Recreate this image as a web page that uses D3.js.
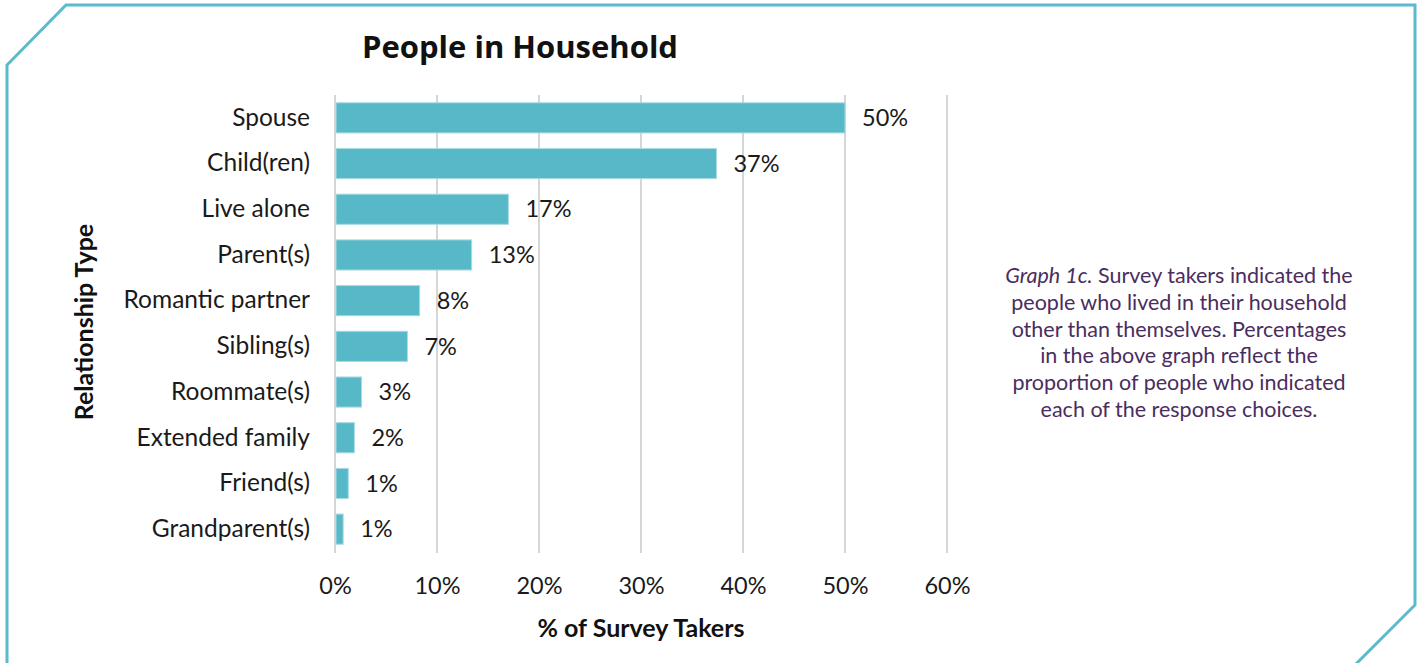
<!DOCTYPE html>
<html>
<head>
<meta charset="utf-8">
<script src="https://cdn.jsdelivr.net/npm/d3@7"></script>
<style>
  html, body { margin: 0; padding: 0; background: #fff; }
  svg { display: block; }
</style>
</head>
<body>
<svg id="chart" width="1421" height="663"></svg>
<script>
// Household relationship categories, top to bottom
const categories = ["Spouse", "Child(ren)", "Live alone", "Parent(s)", "Romantic partner",
                    "Sibling(s)", "Roommate(s)", "Extended family", "Friend(s)", "Grandparent(s)"];
// Share of survey takers (%) per category
const values = [50.0, 37.4, 17.0, 13.4, 8.3, 7.1, 2.6, 1.9, 1.3, 0.8];
// Axis ticks (%)
const tickValues = [0, 10, 20, 30, 40, 50, 60];

const chartTitle = "People in Household";
const xTitle = "% of Survey Takers";
const yTitle = "Relationship Type";
const captionLines = [
  [["Graph 1c.", true], [" Survey takers indicated the", false]],
  [["people who lived in their household", false]],
  [["other than themselves. Percentages", false]],
  [["in the above graph reflect the", false]],
  [["proportion of people who indicated", false]],
  [["each of the response choices.", false]]
];

const teal = "#57b8c8";
const svg = d3.select("#chart");

// Frame with clipped corners
svg.append("path")
  .attr("d", "M7,700 L7,65 L66,5 L1415,5 L1415,605 L1320,700")
  .attr("fill", "none")
  .attr("stroke", "#5bbacb")
  .attr("stroke-width", 3);

const x = d3.scaleLinear().domain([0, 60]).range([335, 947]);
const y = d3.scaleBand().domain(categories).range([95, 552])
  .paddingInner(0.34).paddingOuter(0.17);

// Vertical gridlines
svg.append("g").selectAll("line")
  .data(tickValues)
  .join("line")
  .attr("x1", d => x(d)).attr("x2", d => x(d))
  .attr("y1", 95).attr("y2", 553)
  .attr("stroke", "#d6d6d6")
  .attr("stroke-width", 2);

// Bars
svg.append("g").selectAll("rect")
  .data(values)
  .join("rect")
  .attr("x", x(0) + 1)
  .attr("y", (d, i) => y(categories[i]))
  .attr("width", d => x(d) - x(0) - 1)
  .attr("height", y.bandwidth())
  .attr("fill", teal)
  .attr("stroke", "#a9dbe3")
  .attr("stroke-width", 1);

// Value labels
svg.append("g").selectAll("text")
  .data(values)
  .join("text")
  .attr("x", d => x(d) + 17)
  .attr("y", (d, i) => y(categories[i]) + y.bandwidth() / 2)
  .attr("dy", "0.35em")
  .attr("font-family", "Lato, sans-serif")
  .attr("font-size", 23.5)
  .attr("fill", "#1a1a1a")
  .text(d => Math.round(d) + "%");

// Category axis (labels only)
const yAxis = svg.append("g")
  .attr("transform", `translate(${x(0)},0)`)
  .call(d3.axisLeft(y).tickSize(0).tickPadding(25));
yAxis.select(".domain").remove();
yAxis.selectAll("text")
  .attr("font-family", "Lato, sans-serif")
  .attr("font-size", 24.5)
  .attr("fill", "#1a1a1a");

// Value axis (labels only)
const xAxis = svg.append("g")
  .attr("transform", "translate(0,553)")
  .call(d3.axisBottom(x).tickValues(tickValues).tickSize(0).tickPadding(24)
    .tickFormat(d => d + "%"));
xAxis.select(".domain").remove();
xAxis.selectAll("text")
  .attr("font-family", "Lato, sans-serif")
  .attr("font-size", 23.5)
  .attr("fill", "#1a1a1a");

// Titles
svg.append("text")
  .attr("x", 520).attr("y", 47).attr("dy", "0.35em")
  .attr("text-anchor", "middle")
  .attr("font-family", "'Open Sans', sans-serif")
  .attr("font-weight", "bold")
  .attr("font-size", 31)
  .attr("fill", "#111")
  .text(chartTitle);

svg.append("text")
  .attr("x", 641).attr("y", 628).attr("dy", "0.35em")
  .attr("text-anchor", "middle")
  .attr("font-family", "Lato, sans-serif")
  .attr("font-weight", "bold")
  .attr("font-size", 25)
  .attr("fill", "#111")
  .text(xTitle);

svg.append("text")
  .attr("transform", "translate(84,322) rotate(-90)")
  .attr("dy", "0.35em")
  .attr("text-anchor", "middle")
  .attr("font-family", "Lato, sans-serif")
  .attr("font-weight", "bold")
  .attr("font-size", 25)
  .attr("fill", "#111")
  .text(yTitle);

// Caption
const cap = svg.append("text")
  .attr("text-anchor", "middle")
  .attr("font-family", "Lato, sans-serif")
  .attr("font-size", 21.5)
  .attr("fill", "#4a2d5e");
captionLines.forEach((parts, i) => {
  const line = cap.append("tspan").attr("x", 1179).attr("y", 283 + i * 26.8);
  parts.forEach(([t, it]) => {
    line.append("tspan").attr("font-style", it ? "italic" : "normal").text(t);
  });
});
</script>
</body>
</html>
